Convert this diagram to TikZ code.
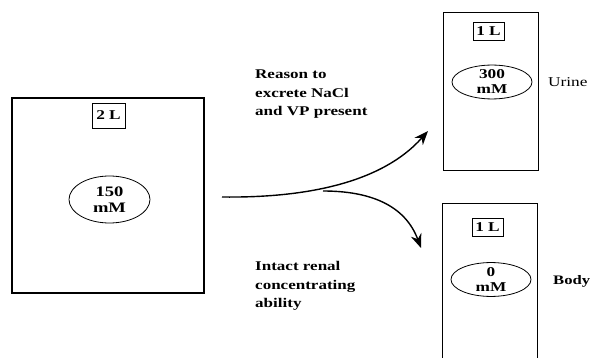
\documentclass[tikz,border=0pt]{standalone}
\usepackage{fontspec}
\setmainfont{Liberation Serif}
\newfontfamily\lblfont[FakeStretch=1.28]{Liberation Serif}
\usetikzlibrary{arrows.meta,shapes.geometric}
\tikzset{
  tank/.style={draw, line width=1.2pt, inner sep=0pt},
  vol/.style={draw, line width=0.7pt, inner sep=0pt, font=\lblfont\fontsize{13.5}{13.5}\selectfont\bfseries},
  conc/.style={draw, ellipse, line width=0.8pt, inner sep=0pt, align=center, font=\lblfont\fontsize{13.5}{15}\selectfont\bfseries},
  cond/.style={align=left, anchor=north west, inner sep=0pt, font=\lblfont\fontsize{13.3}{18.5}\selectfont\bfseries},
  side/.style={anchor=west, inner sep=0pt, font=\lblfont\fontsize{13.5}{13.5}\selectfont},
  arr/.style={line width=1.4pt, -{Stealth[length=14pt,width=11pt]}}
}
\begin{document}
\begin{tikzpicture}[x=1pt,y=-1pt]
\useasboundingbox (0,0) rectangle (592,358);
\clip (0,0) rectangle (592,358);
% left compartment
\node[tank, line width=1.4pt, minimum width=192pt, minimum height=195pt] (src) at (108,195.5) {};
\node[vol, minimum width=33pt, minimum height=25pt] (srcv) at (108.5,115.5) {2 L};
\node[conc, minimum width=81pt, minimum height=47pt, font=\lblfont\fontsize{14.5}{16}\selectfont\bfseries] (srcc) at (109.5,199.5) {150\\mM};
% urine compartment
\node[tank, line width=1pt, minimum width=95pt, minimum height=158pt] (uri) at (490.5,92) {};
\node[vol, minimum width=31pt, minimum height=18pt] (uriv) at (488.5,31) {1 L};
\node[conc, minimum width=80pt, minimum height=33pt] (uric) at (492,82) {300\\mM};
\node[side] (urit) at (548,82) {Urine};
% body compartment
\node[tank, line width=1pt, minimum width=95pt, minimum height=200pt] (bod) at (489.5,304) {};
\node[vol, minimum width=31pt, minimum height=18pt] (bodv) at (487.5,227) {1 L};
\node[conc, minimum width=80pt, minimum height=33pt] (bodc) at (491,279.5) {0\\mM};
\node[side, font=\lblfont\fontsize{13}{13}\selectfont\bfseries] (bodt) at (553,281) {Body};
% conditions
\node[cond] (up) at (255,70) {Reason to\\excrete NaCl\\and VP present};
\node[cond] (low) at (255,261.5) {Intact renal\\concentrating\\ability};
% arrows
\coordinate (s) at (222,197);
\coordinate (br) at (323,191);
\coordinate (e1) at (428,131);
\coordinate (e2) at (421,248);
\draw[arr] (s) .. controls (300,198) and (380,185) .. (e1);
\draw[arr] (br) .. controls (370,191) and (405,205) .. (e2);
\end{tikzpicture}
\end{document}
